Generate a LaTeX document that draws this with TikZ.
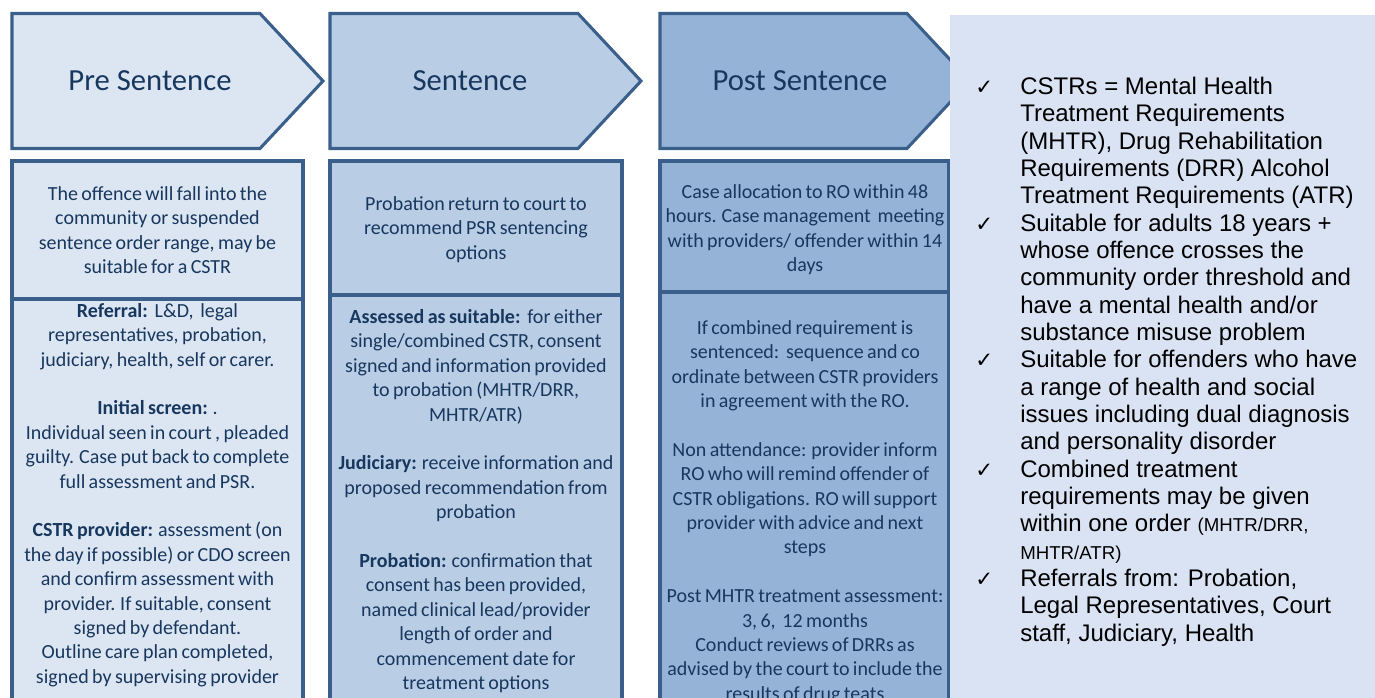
\documentclass[tikz,border=0pt]{standalone}
\usepackage{fontspec}
\setmainfont{Carlito}
\newfontfamily\colfont{Carlito}[WordSpace=0.75]
\newfontfamily\panelfont{Liberation Sans}
\newfontfamily\symfont{DejaVu Sans}
\definecolor{edge}{HTML}{3A5F8B}
\definecolor{fillA}{HTML}{DCE6F2}
\definecolor{fillB}{HTML}{B9CDE5}
\definecolor{fillC}{HTML}{95B3D7}
\definecolor{panelbg}{HTML}{DAE3F3}
\definecolor{navy}{HTML}{17375E}
\newcommand{\tick}{{\symfont\fontsize{16}{15}\selectfont ✓}}
\newcommand{\smallpart}[1]{{\fontsize{14}{16}\selectfont #1}}

\begin{document}
\begin{tikzpicture}[x=0.75pt,y=-0.75pt,
  stage/.style={draw=edge,line width=2.3pt,line join=miter},
  title/.style={font=\fontsize{23}{28}\selectfont,text=navy,inner sep=0},
  body/.style={font=\colfont\fontsize{15}{18.3}\selectfont,text=navy,align=center,inner sep=0},
]
\useasboundingbox (0,0) rectangle (1375,697);
\clip (0,0) rectangle (1375,697);

% stage chevrons
\draw[stage,fill=fillA] (12,13.5) -- (260,13.5) -- (323,81) -- (260,148.5) -- (12,148.5) -- cycle;
\draw[stage,fill=fillB] (330,13.5) -- (578,13.5) -- (641,81) -- (578,148.5) -- (330,148.5) -- cycle;
\draw[stage,fill=fillC] (660,13.5) -- (907,13.5) -- (970,81) -- (907,148.5) -- (660,148.5) -- cycle;

\node[title] (pre)  at (150,81) {Pre Sentence};
\node[title] (sent) at (470,81) {Sentence};
\node[title] (post) at (800,81) {Post Sentence};

% column boxes
\draw[stage,fill=fillA] (12,161) rectangle (303,730);
\draw[stage] (12,299) -- (303,299);
\draw[stage,fill=fillB] (330,161) rectangle (622,730);
\draw[stage] (330,295) -- (622,295);
\draw[stage,fill=fillC] (660,161) rectangle (949,730);
\draw[stage] (660,292) -- (949,292);

% column one
\node[body] (preA) at (157.5,230) {The offence will fall into the\\
community or suspended\\
sentence order range, may be\\
suitable for a CSTR};
\node[body] (preB) at (157.5,495) {\textbf{Referral:}\ \ L\&D,\ \ legal\\
representatives, probation,\\
judiciary, health, self or carer.\\[18.3pt]
\textbf{Initial screen:} .\\
Individual seen in court , pleaded\\
guilty. Case put back to complete\\
full assessment and PSR.\\[18.3pt]
\textbf{CSTR provider:} assessment (on\\
the day if possible) or CDO screen\\
and confirm assessment with\\
provider. If suitable, consent\\
signed by defendant.\\
Outline care plan completed,\\
signed by supervising provider};

% column two
\node[body] (senA) at (476,229.5) {Probation return to court to\\
recommend PSR sentencing\\
options};
\node[body] (senB) at (476,501) {\textbf{Assessed as suitable:}\ \ for either\\
single/combined CSTR, consent\\
signed and information provided\\
to probation (MHTR/DRR,\\
MHTR/ATR)\\[18.3pt]
\textbf{Judiciary:} receive information and\\
proposed recommendation from\\
probation\\[18.3pt]
\textbf{Probation:} confirmation that\\
consent has been provided,\\
named clinical lead/provider\\
length of order and\\
commencement date for\\
treatment options};

% column three
\node[body] (posA) at (805,229.5) {Case allocation to RO within 48\\
hours. Case management\ \ meeting\\
with providers/ offender within 14\\
days};
\node[body] (posB) at (805,512) {If combined requirement is\\
sentenced:\ \ sequence and co\\
ordinate between CSTR providers\\
in agreement with the RO.\\[18.3pt]
Non attendance: provider inform\\
RO who will remind offender of\\
CSTR obligations. RO will support\\
provider with advice and next\\
steps\\[18.3pt]
Post MHTR treatment assessment:\\
3, 6,\ \ 12 months\\
Conduct reviews of DRRs as\\
advised by the court to include the\\
results of drug teats};

% summary panel
\fill[panelbg] (950,15) rectangle (1380,700);
\node[anchor=north west,inner sep=0,
      font=\panelfont\fontsize{18}{20.5}\selectfont] (notes) at (975,75) {%
\renewcommand{\arraystretch}{1}%
\begin{tabular}{@{}p{33.75pt}@{}l@{}}
\tick & CSTRs = Mental Health\\
 & Treatment Requirements\\
 & (MHTR), Drug Rehabilitation\\
 & Requirements (DRR) Alcohol\\
 & Treatment Requirements (ATR)\\
\tick & Suitable for adults 18 years +\\
 & whose offence crosses the\\
 & community order threshold and\\
 & have a mental health and/or\\
 & substance misuse problem\\
\tick & Suitable for offenders who have\\
 & a range of health and social\\
 & issues including dual diagnosis\\
 & and personality disorder\\
\tick & Combined treatment\\
 & requirements may be given\\
 & within one order \smallpart{(MHTR/DRR,}\\
 & \smallpart{MHTR/ATR)}\\
\tick & Referrals from: Probation,\\
 & Legal Representatives, Court\\
 & staff, Judiciary, Health
\end{tabular}};
\end{tikzpicture}
\end{document}
